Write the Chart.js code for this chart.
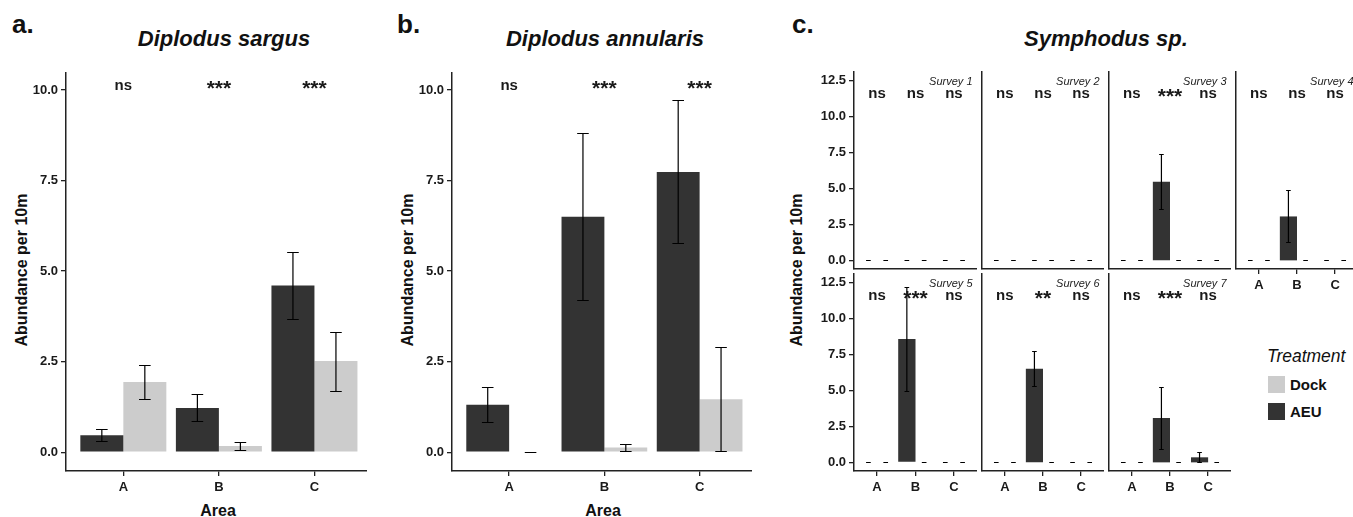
<!DOCTYPE html>
<html>
<head>
<meta charset="utf-8">
<script src="https://cdn.jsdelivr.net/npm/chart.js@4.4.1/dist/chart.umd.min.js"></script>
<style>
  html, body { margin: 0; padding: 0; background: #fff; overflow: hidden; width: 1353px; height: 517px; }
  body { position: relative; font-family: "Liberation Sans", Arial, sans-serif; color: #111; }
  canvas { position: absolute; }
  .t { position: absolute; white-space: nowrap; line-height: 1; }
  .letter { font-size: 26px; font-weight: bold; }
  .title { font-size: 22px; font-weight: bold; font-style: italic; transform: translateX(-50%); }
  .ytitle { font-size: 16px; font-weight: bold; transform: translate(-50%, -50%) rotate(-90deg); }
  .xtitle { font-size: 16px; font-weight: bold; transform: translateX(-50%); }
  .legend-title { font-size: 17.5px; font-style: italic; }
  .legend-item { font-size: 15px; font-weight: bold; }
  .swatch { position: absolute; width: 17px; height: 17px; }
</style>
</head>
<body>

<div class="t letter" style="left:12px;top:11px">a.</div>
<div class="t letter" style="left:397px;top:11px">b.</div>
<div class="t letter" style="left:792px;top:11px">c.</div>

<div class="t title" style="left:224px;top:28px">Diplodus sargus</div>
<div class="t title" style="left:605px;top:28px">Diplodus annularis</div>
<div class="t title" style="left:1106px;top:28px">Symphodus sp.</div>

<div class="t ytitle" style="left:22px;top:270px">Abundance per 10m</div>
<div class="t ytitle" style="left:408px;top:270px">Abundance per 10m</div>
<div class="t ytitle" style="left:797px;top:270px">Abundance per 10m</div>

<div class="t xtitle" style="left:218px;top:503px">Area</div>
<div class="t xtitle" style="left:603px;top:503px">Area</div>

<div class="t legend-title" style="left:1267px;top:348px">Treatment</div>
<div class="swatch" style="left:1268px;top:376px;background:#cccccc"></div>
<div class="t legend-item" style="left:1290px;top:377px">Dock</div>
<div class="swatch" style="left:1268px;top:403px;background:#333333"></div>
<div class="t legend-item" style="left:1290px;top:404px">AEU</div>

<script>
// Mean abundance per 10 m transect with error bars, AEU vs Dock, per area.

const AREAS = ['A', 'B', 'C'];
const TICKS_AB = [0, 2.5, 5, 7.5, 10];
const TICKS_C = [0, 2.5, 5, 7.5, 10, 12.5];

// a. Diplodus sargus
const SARGUS_AEU = [0.47, 1.22, 4.60];
const SARGUS_AEU_LO = [0.31, 0.85, 3.68];
const SARGUS_AEU_HI = [0.63, 1.60, 5.53];
const SARGUS_DOCK = [1.94, 0.17, 2.52];
const SARGUS_DOCK_LO = [1.47, 0.06, 1.69];
const SARGUS_DOCK_HI = [2.42, 0.29, 3.33];
const SARGUS_SIG = ['ns', '***', '***'];

// b. Diplodus annularis
const ANNUL_AEU = [1.31, 6.50, 7.74];
const ANNUL_AEU_LO = [0.83, 4.20, 5.78];
const ANNUL_AEU_HI = [1.81, 8.82, 9.72];
const ANNUL_DOCK = [0, 0.13, 1.46];
const ANNUL_DOCK_LO = [0, 0.04, 0.04];
const ANNUL_DOCK_HI = [0, 0.23, 2.90];
const ANNUL_SIG = ['ns', '***', '***'];

// c. Symphodus sp. — one row per survey; no fish at the docks in any survey
const SURVEYS = ['Survey 1', 'Survey 2', 'Survey 3', 'Survey 4', 'Survey 5', 'Survey 6', 'Survey 7'];
const SYMPH_AEU = [[0, 0, 0], [0, 0, 0], [0, 5.46, 0], [0, 3.05, 0], [0, 8.56, 0], [0, 6.50, 0], [0, 3.08, 0.35]];
const SYMPH_AEU_LO = [[0, 0, 0], [0, 0, 0], [0, 3.56, 0], [0, 1.29, 0], [0, 4.95, 0], [0, 5.28, 0], [0, 0.94, 0.02]];
const SYMPH_AEU_HI = [[0, 0, 0], [0, 0, 0], [0, 7.38, 0], [0, 4.86, 0], [0, 12.2, 0], [0, 7.75, 0], [0, 5.25, 0.72]];
const SYMPH_DOCK = [0, 0, 0];
const SYMPH_SIG = [
  ['ns', 'ns', 'ns'], ['ns', 'ns', 'ns'], ['ns', '***', 'ns'], ['ns', 'ns', 'ns'],
  ['ns', '***', 'ns'], ['ns', '**', 'ns'], ['ns', '***', 'ns'],
];

const DARK = '#333333';
const LIGHT = '#cccccc';
const INK = '#1a1a1a';
const FONT = '"Liberation Sans", Arial, sans-serif';

// Error bars, significance marks and the facet strip label, drawn through the chart's scales.
function annotate(sig, sigY, survey) {
  return {
    id: 'annotate',
    afterDatasetsDraw(chart) {
      const { ctx, scales: { x, y } } = chart;
      ctx.save();
      ctx.strokeStyle = '#000';
      ctx.lineWidth = 1.2;
      chart.data.datasets.forEach((ds, d) => {
        chart.getDatasetMeta(d).data.forEach((bar, i) => {
          const half = bar.width * 0.135;
          const top = Math.round(y.getPixelForValue(ds.errHi[i])) + 0.5;
          const bot = Math.round(y.getPixelForValue(ds.errLo[i])) + 0.5;
          ctx.beginPath();
          ctx.moveTo(bar.x, top); ctx.lineTo(bar.x, bot);
          ctx.moveTo(bar.x - half, top); ctx.lineTo(bar.x + half, top);
          ctx.moveTo(bar.x - half, bot); ctx.lineTo(bar.x + half, bot);
          ctx.stroke();
        });
      });

      ctx.fillStyle = INK;
      ctx.textAlign = 'center';
      ctx.textBaseline = 'alphabetic';
      const base = y.getPixelForValue(sigY);
      sig.forEach((s, i) => {
        const px = x.getPixelForValue(i + 1);
        if (s.startsWith('*')) {
          ctx.font = `bold 21px ${FONT}`;
          ctx.fillText(s, px, base + 5);
        } else {
          ctx.font = `bold 15px ${FONT}`;
          ctx.fillText(s, px, base);
        }
      });

      if (survey) {
        ctx.font = `italic 11px ${FONT}`;
        ctx.textAlign = 'right';
        ctx.fillStyle = '#222';
        ctx.fillText(survey, chart.chartArea.right - 4.5, chart.chartArea.top + 14);
      }
      ctx.restore();
    },
  };
}

function panel(o) {
  const yW = o.yLabels ? 50 : 8;
  const xH = o.xLabels ? 26 : 6;
  const canvas = document.createElement('canvas');
  canvas.width = o.width + yW;
  canvas.height = o.height + xH;
  canvas.style.left = (o.left - yW) + 'px';
  canvas.style.top = o.top + 'px';
  document.body.appendChild(canvas);

  const tickFont = { family: FONT, size: 13, weight: 'bold' };

  new Chart(canvas, {
    type: 'bar',
    data: {
      datasets: [
        { label: 'AEU', data: o.aeu.map((v, i) => ({ x: i + 1, y: v })), errLo: o.aeuLo, errHi: o.aeuHi, backgroundColor: DARK },
        { label: 'Dock', data: o.dock.map((v, i) => ({ x: i + 1, y: v })), errLo: o.dockLo, errHi: o.dockHi, backgroundColor: LIGHT },
      ],
    },
    options: {
      responsive: false,
      animation: false,
      events: [],
      layout: { padding: 0 },
      datasets: { bar: { categoryPercentage: 0.9, barPercentage: 1, borderWidth: 0 } },
      plugins: { legend: { display: false }, tooltip: { enabled: false } },
      scales: {
        x: {
          type: 'linear',
          min: 0.4,
          max: o.xMax,
          offset: false,
          afterBuildTicks: (s) => { s.ticks = AREAS.map((_, i) => ({ value: i + 1 })); },
          afterFit: (s) => { s.height = xH; s.paddingLeft = 0; s.paddingRight = 0; },
          ticks: { display: o.xLabels, autoSkip: false, maxRotation: 0, padding: 4, color: INK, font: tickFont, callback: (v) => AREAS[v - 1] },
          grid: { display: o.xLabels, offset: false, drawOnChartArea: false, tickLength: 5, color: '#222', lineWidth: 1.3 },
          border: { display: true, color: '#222', width: 1.5 },
        },
        y: {
          min: o.yMin,
          max: o.yMax,
          afterBuildTicks: (s) => { s.ticks = o.yTicks.map((v) => ({ value: v })); },
          afterFit: (s) => { s.width = yW; s.paddingTop = 0; s.paddingBottom = 0; },
          ticks: { display: o.yLabels, padding: 3, color: INK, font: tickFont, callback: (v) => v.toFixed(1) },
          grid: { display: o.yLabels, drawOnChartArea: false, tickLength: 5, color: '#222', lineWidth: 1.3 },
          border: { display: true, color: '#222', width: 1.5 },
        },
      },
    },
    plugins: [annotate(o.sig, o.sigY, o.survey)],
  });
}

// a.
panel({
  left: 66, top: 72, width: 301, height: 399, xMax: 3.55, yMin: -0.52, yMax: 10.5, yTicks: TICKS_AB,
  yLabels: true, xLabels: true,
  aeu: SARGUS_AEU, aeuLo: SARGUS_AEU_LO, aeuHi: SARGUS_AEU_HI,
  dock: SARGUS_DOCK, dockLo: SARGUS_DOCK_LO, dockHi: SARGUS_DOCK_HI,
  sig: SARGUS_SIG, sigY: 10,
});

// b.
panel({
  left: 452, top: 72, width: 300, height: 399, xMax: 3.55, yMin: -0.52, yMax: 10.5, yTicks: TICKS_AB,
  yLabels: true, xLabels: true,
  aeu: ANNUL_AEU, aeuLo: ANNUL_AEU_LO, aeuHi: ANNUL_AEU_HI,
  dock: ANNUL_DOCK, dockLo: ANNUL_DOCK_LO, dockHi: ANNUL_DOCK_HI,
  sig: ANNUL_SIG, sigY: 10,
});
</script>
<script>
// c. facets: 4 columns on the first row, 3 on the second (legend takes the 8th slot)
const COL_LEFT = [854, 982, 1109, 1236];
const ROW_TOP = [71, 273];

SURVEYS.forEach((name, s) => {
  const row = s < 4 ? 0 : 1;
  const col = s % 4;
  panel({
    left: COL_LEFT[col], top: ROW_TOP[row], width: col === 0 ? 123 : 122, height: 198,
    xMax: 3.6, yMin: -0.6, yMax: 13.15, yTicks: TICKS_C,
    yLabels: col === 0, xLabels: row === 1 || col === 3,
    aeu: SYMPH_AEU[s], aeuLo: SYMPH_AEU_LO[s], aeuHi: SYMPH_AEU_HI[s],
    dock: SYMPH_DOCK, dockLo: SYMPH_DOCK, dockHi: SYMPH_DOCK,
    sig: SYMPH_SIG[s], sigY: 11.25, survey: name,
  });
});
</script>
</body>
</html>
